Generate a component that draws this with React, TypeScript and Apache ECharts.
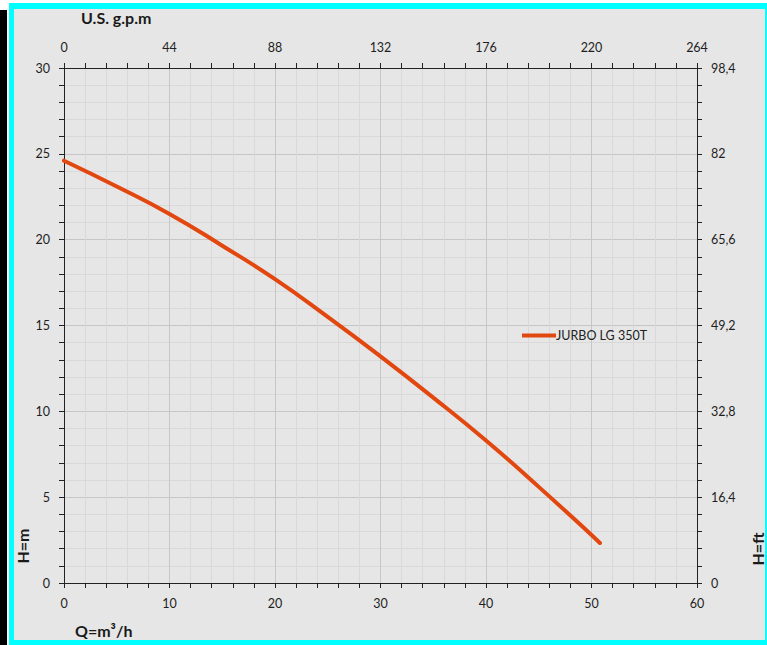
import React, { useEffect, useRef } from "react";
import * as echarts from "echarts";

const flowM3h = [0, 5, 10, 15, 20, 25, 30, 35, 40, 45, 50, 50.8];
const headM = [24.6, 23.1, 21.5, 19.65, 17.7, 15.5, 13.2, 10.8, 8.3, 5.6, 2.8, 2.33];
const seriesName = "JURBO LG 350T";
const bottomTicks = { min: 0, max: 60, interval: 10 };
const topTicks = { min: 0, max: 264, interval: 44 };
const leftTicks = { min: 0, max: 30, interval: 5 };
const rightTicks = { min: 0, max: 98.4, interval: 16.4 };

const FONT = "Lato, 'Open Sans', sans-serif";
const BG = "#e6e6e6";
const CYAN = "#00ffff";

export default function App() {
  const ref = useRef<HTMLDivElement>(null);
  useEffect(() => {
    document.body.style.margin = "0";
    const chart = echarts.init(ref.current!, undefined, { renderer: "svg" });
    const labelStyle = { color: "#1e1e1e", fontSize: 12.5, fontFamily: FONT, margin: 14 };
    const axisLine = { show: true, onZero: false, lineStyle: { color: "#222", width: 1 } };
    const tick = { show: true, inside: false, length: 5, lineStyle: { color: "#222" } };
    const minorTick = { show: true, splitNumber: 5, length: 5, lineStyle: { color: "#222" } };
    const split = { show: true, lineStyle: { color: "#c6c6c6", width: 1 } };
    const minorSplit = { show: true, lineStyle: { color: "#d9d9d9", width: 1 } };
    chart.setOption({
      animation: false,
      backgroundColor: "#ffffff",
      graphic: [
        { type: "rect", shape: { x: 9, y: 3, width: 758, height: 642 }, style: { fill: BG }, z: -10 },
        { type: "rect", shape: { x: 0, y: 10, width: 7, height: 635 }, style: { fill: "#000" }, z: -5 },
        { type: "rect", shape: { x: 9, y: 3, width: 5, height: 642 }, style: { fill: CYAN }, z: -5 },
        { type: "rect", shape: { x: 9, y: 3, width: 758, height: 6 }, style: { fill: CYAN }, z: -5 },
        { type: "rect", shape: { x: 9, y: 640, width: 758, height: 5 }, style: { fill: CYAN }, z: -5 },
        { type: "rect", shape: { x: 765, y: 3, width: 2, height: 642 }, style: { fill: CYAN }, z: -5 },
        {
          type: "text", left: 81, top: 9,
          style: { text: "U.S. g.p.m", fill: "#1a1a1a", font: `bold 16px ${FONT}` },
        },
        {
          type: "text", left: 75, top: 622,
          style: { text: "Q=m³/h", fill: "#1a1a1a", font: `bold 16px ${FONT}` },
        },
        {
          type: "text", x: 22, y: 546, rotation: Math.PI / 2,
          style: { text: "H=m", fill: "#1a1a1a", font: `bold 16px ${FONT}`, align: "center", verticalAlign: "middle" },
        },
        {
          type: "text", x: 757, y: 549, rotation: Math.PI / 2,
          style: { text: "H=ft", fill: "#1a1a1a", font: `bold 16px ${FONT}`, align: "center", verticalAlign: "middle" },
        },
      ],
      grid: { left: 64, right: 70, top: 68, bottom: 62, containLabel: false },
      legend: {
        left: 517, top: 324,
        icon: "rect", itemWidth: 34, itemHeight: 4,
        textStyle: { color: "#222", fontSize: 12.5, fontFamily: FONT, padding: [0, 0, 0, -5] },
        data: [seriesName],
      },
      xAxis: [
        {
          type: "value", position: "bottom", ...bottomTicks,
          axisLine, axisTick: tick, minorTick, splitLine: split, minorSplitLine: minorSplit,
          axisLabel: labelStyle,
        },
        {
          type: "value", position: "top", ...topTicks,
          axisLine, axisTick: tick, minorTick, splitLine: { show: false },
          axisLabel: labelStyle,
        },
      ],
      yAxis: [
        {
          type: "value", position: "left", ...leftTicks,
          axisLine, axisTick: tick, minorTick, splitLine: split, minorSplitLine: minorSplit,
          axisLabel: labelStyle,
        },
        {
          type: "value", position: "right", ...rightTicks,
          axisLine, axisTick: tick, minorTick, splitLine: { show: false },
          axisLabel: {
            ...labelStyle,
            formatter: (v: number) => String(Math.round(v * 10) / 10).replace(".", ","),
          },
        },
      ],
      series: [
        {
          name: seriesName, type: "line", xAxisIndex: 0, yAxisIndex: 0,
          smooth: true, showSymbol: false, symbol: "none",
          lineStyle: { color: "#e2470f", width: 4, cap: "round" },
          itemStyle: { color: "#e2470f" },
          data: flowM3h.map((q, i) => [q, headM[i]]),
        },
      ],
    });
    return () => chart.dispose();
  }, []);
  return <div ref={ref} style={{ width: 767, height: 645 }} />;
}
